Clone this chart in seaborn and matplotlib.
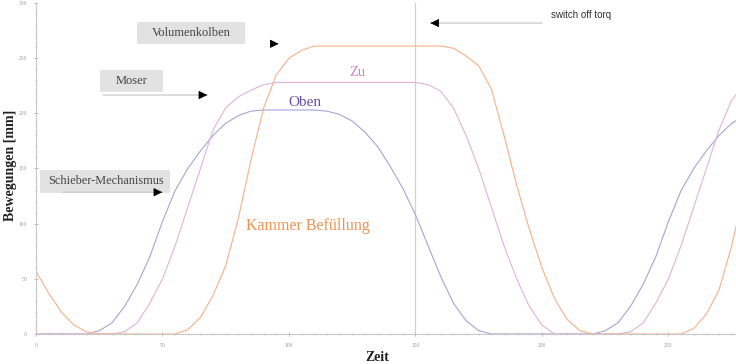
import matplotlib
matplotlib.use("Agg")
import matplotlib.pyplot as plt
from matplotlib.ticker import MultipleLocator
from matplotlib.patches import Rectangle
import seaborn as sns
import pandas as pd

# ---- data ----
zeit = [0, 5, 10, 15, 20, 25, 30, 35, 40, 45, 50, 55, 60, 65, 70, 75, 80, 85, 90, 95,
        100, 105, 110, 115, 120, 125, 130, 135, 140, 145, 150, 155, 160, 165, 170, 175,
        180, 185, 190, 195, 200, 205, 210, 215, 220, 225, 230, 235, 240, 245, 250, 255,
        260, 265, 270, 275, 280]

oben = [0, 0, 0, 0, 0, 3, 10, 25, 45, 70, 102, 130, 150, 166, 180, 191, 198, 202, 203, 203,
        203, 203, 203, 202, 199, 193, 183, 170, 152, 132, 108, 80, 52, 28, 12, 3,
        0, 0, 0, 0, 0, 0, 0, 0, 0, 3, 10, 25, 45, 70, 102, 130,
        150, 166, 180, 191, 198]

zu = [0, 0, 0, 0, 0, 0, 0, 2, 10, 28, 50, 80, 115, 150, 185, 205, 215, 221, 226, 228,
      228, 228, 228, 228, 228, 228, 228, 228, 228, 228, 228, 226, 220, 205, 180, 150,
      115, 80, 50, 25, 8, 0, 0, 0, 0, 0, 0, 2, 10, 28, 50, 80,
      115, 150, 185, 212, 226]

kammer = [57, 37, 20, 8, 2, 0, 0, 0, 0, 0, 0, 0, 4, 15, 35, 62, 105, 158, 205, 235,
          250, 257, 261, 261, 261, 261, 261, 261, 261, 261, 261, 261, 261, 259, 252, 243,
          222, 180, 135, 95, 60, 32, 13, 3, 0, 0, 0, 0, 0, 0, 0, 0,
          5, 18, 40, 80, 130]

serien = ["Oben", "Zu", "Kammer Befüllung"]
farben = ["#a6a4d8", "#e0b2dc", "#f7b088"]

x_ticks = [0, 50, 100, 150, 200, 250]
y_ticks = [0, 50, 100, 150, 200, 250, 300]

df = pd.concat([
    pd.DataFrame({"Zeit": zeit, "Bewegung": oben, "Serie": serien[0]}),
    pd.DataFrame({"Zeit": zeit, "Bewegung": zu, "Serie": serien[1]}),
    pd.DataFrame({"Zeit": zeit, "Bewegung": kammer, "Serie": serien[2]}),
])

sns.set_theme(style="white")
plt.rcParams["font.family"] = ["Liberation Serif", "DejaVu Serif"]

fig = plt.figure(figsize=(7.36, 3.64), dpi=100)
ax = fig.add_axes([36 / 736, 30 / 364, 700 / 736, 331 / 364])

sns.lineplot(data=df, x="Zeit", y="Bewegung", hue="Serie",
             palette=dict(zip(serien, farben)), legend=False, ax=ax,
             linewidth=0.8, sort=False)

ax.set_xlim(0, 276.7)
ax.set_ylim(0, 300)
ax.axvline(150, color="#d2d2d2", lw=0.9, zorder=0)

for s in ["top", "right"]:
    ax.spines[s].set_visible(False)
for s in ["left", "bottom"]:
    ax.spines[s].set_color("#c8c8c8")
    ax.spines[s].set_linewidth(0.8)

ax.set_xticks(x_ticks)
ax.set_yticks(y_ticks)
ax.set_xticklabels([str(v) for v in x_ticks])
ax.set_yticklabels([str(v) for v in y_ticks])
ax.xaxis.set_minor_locator(MultipleLocator(5))
ax.yaxis.set_minor_locator(MultipleLocator(10))
ax.tick_params(which="major", direction="inout", length=3, width=0.7,
               color="#bbbbbb", labelsize=4, labelcolor="#999999", pad=5)
ax.tick_params(which="minor", direction="inout", length=1.5, width=0.7,
               color="#c8c8c8")
ax.tick_params(axis="x", bottom=True, which="both")
ax.tick_params(axis="y", left=True, which="both")

ax.set_xlabel("Zeit", fontsize=10, fontweight="bold", color="#222222")
ax.set_ylabel("Bewegungen [mm]", fontsize=10, fontweight="bold", color="#222222")
ax.yaxis.set_label_coords(-0.027, 0.51)
ax.xaxis.set_label_coords(0.488, -0.05)

# series labels
ax.text(126.9, 237.4, "Zu", color="#d080c8", fontsize=10.5, ha="center", va="center")
ax.text(106.3, 209.4, "Oben", color="#6050a8", fontsize=11, ha="center", va="center")
ax.text(107.5, 97.9, "Kammer Befüllung", color="#f09050", fontsize=11.5,
        ha="center", va="center")

# grey label boxes
for (x0, x1, y0, y1) in [(39.9, 82.6, 262.8, 282.8),
                         (25.3, 50.2, 219.3, 239.3),
                         (1.6, 53.0, 127.8, 148.6)]:
    ax.add_patch(Rectangle((x0, y0), x1 - x0, y1 - y0, facecolor="#e2e2e2",
                           edgecolor="none", zorder=1))
ax.text(61.3, 272.8, "Volumenkolben", fontsize=9, color="#444444", ha="center",
        va="center", zorder=2)
ax.text(37.7, 229.3, "Moser", fontsize=9, color="#444444", ha="center",
        va="center", zorder=2)
ax.text(27.5, 138.5, "Schieber-Mechanismus", fontsize=8.8, color="#444444",
        ha="center", va="center", zorder=2)


def pfeil(tail, head, line=True):
    if line:
        ax.annotate("", xy=head, xytext=tail,
                    arrowprops=dict(arrowstyle="-", color="#c8c8c8", lw=0.9))
    dx = 3.0 if head[0] > tail[0] else -3.0
    ax.annotate("", xy=head, xytext=(head[0] - dx, head[1]),
                arrowprops=dict(arrowstyle="-|>,head_length=0.45,head_width=0.22",
                                color="black", lw=0.5))


pfeil((85, 263), (97.0, 263), line=False)
pfeil((25.5, 216.6), (68.8, 216.6))
pfeil((9.5, 128.5), (51.0, 128.5))
pfeil((201.2, 281.8), (154.8, 281.8))

ax.text(203.5, 289.5, "switch off torq", fontsize=7, color="#333333",
        family=["Liberation Sans", "DejaVu Sans"], ha="left", va="center")

fig.savefig("out.png", dpi=100)
